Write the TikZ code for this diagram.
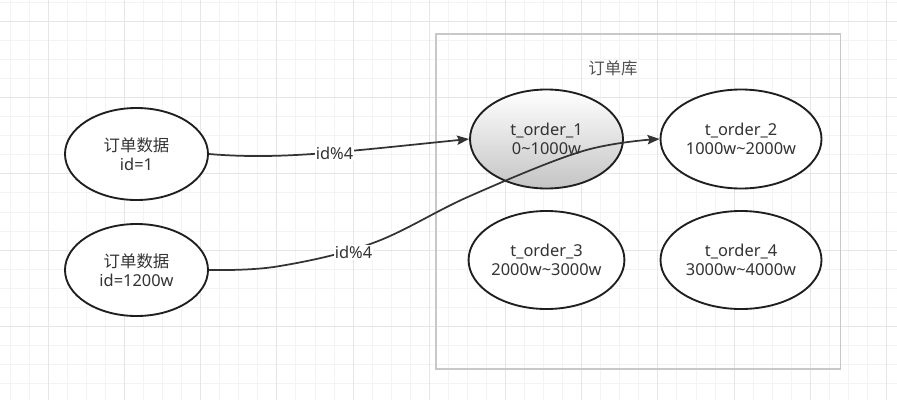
\documentclass[tikz,border=0pt]{standalone}
\usepackage{fontspec}
\setmainfont{Noto Sans}
\newfontfamily\cjk{Noto Sans CJK SC}
\usetikzlibrary{shapes.geometric,arrows.meta}
\definecolor{txt}{HTML}{333333}
\definecolor{stroke}{HTML}{1F1F1F}
\definecolor{minorg}{HTML}{F3F3F3}
\definecolor{majorg}{HTML}{E6E6E6}
\definecolor{boxg}{HTML}{C8C8C8}
\definecolor{shadeg}{HTML}{C4C4C4}
\begin{document}
\begin{tikzpicture}[x=0.75pt,y=-0.75pt,
  txtfont/.style={font=\fontsize{12.3}{14.5}\selectfont},
  oval/.style={ellipse,draw=stroke,line width=1.4pt,fill=white,inner sep=0pt,align=center,text=txt,txtfont},
  edge/.style={draw=txt,line width=1.3pt,-{Stealth[length=9pt,width=7pt,inset=1.5pt]}},
  elabel/.style={fill=white,inner sep=1pt,text=txt,txtfont}]
\fill[white] (0,0) rectangle (897,400);
\useasboundingbox (0,0) rectangle (897,400);
% grid
\foreach \i in {0,...,46} { \draw[minorg,line width=0.75pt] ({10.2+19.05*\i},0) -- ({10.2+19.05*\i},400); }
\foreach \i in {0,...,20} { \draw[minorg,line width=0.75pt] (0,{2.45+19.05*\i}) -- (897,{2.45+19.05*\i}); }
\foreach \i in {0,...,11} { \draw[majorg,line width=0.75pt] ({48.3+76.2*\i},0) -- ({48.3+76.2*\i},400); }
\foreach \i in {0,...,4} { \draw[majorg,line width=0.75pt] (0,{21.5+76.2*\i}) -- (897,{21.5+76.2*\i}); }
% container
\node[rectangle,draw=boxg,line width=1.2pt,minimum width=303.4pt,minimum height=251.25pt,inner sep=0pt] (db) at (638.25,201.5) {};
\node[text=txt!85,txtfont] (dbt) at (613,68) {\cjk 订单库};
% nodes
\node[oval,minimum width=107.25pt,minimum height=69pt] (e1) at (136.5,154) {{\cjk 订单数据}\\id=1};
\node[oval,minimum width=107.25pt,minimum height=69pt] (e2) at (136.5,270) {{\cjk 订单数据}\\id=1200w};
\node[oval,minimum width=114.75pt,minimum height=74.25pt,top color=white,bottom color=shadeg] (t1) at (546.5,139) {t\_order\_1\\0\textasciitilde1000w};
\node[oval,minimum width=120.75pt,minimum height=74.25pt] (t2) at (741,139) {t\_order\_2\\1000w\textasciitilde2000w};
\node[oval,minimum width=114.75pt,minimum height=73.5pt] (t3) at (546.5,260) {t\_order\_3\\2000w\textasciitilde3000w};
\node[oval,minimum width=120.75pt,minimum height=73.5pt] (t4) at (741,260) {t\_order\_4\\3000w\textasciitilde4000w};
% edges
\draw[edge] (e1.east) .. controls (280,160) and (340,152) .. (t1.west);
\draw[edge] plot[smooth,tension=0.6] coordinates {(e2.east) (277,266.5) (373,243) (470,196) (583,151) (t2.west)};
\node[elabel] (l1) at (334.5,153.3) {id\%4};
\node[elabel] (l2) at (353.5,252.7) {id\%4};
\end{tikzpicture}
\end{document}
